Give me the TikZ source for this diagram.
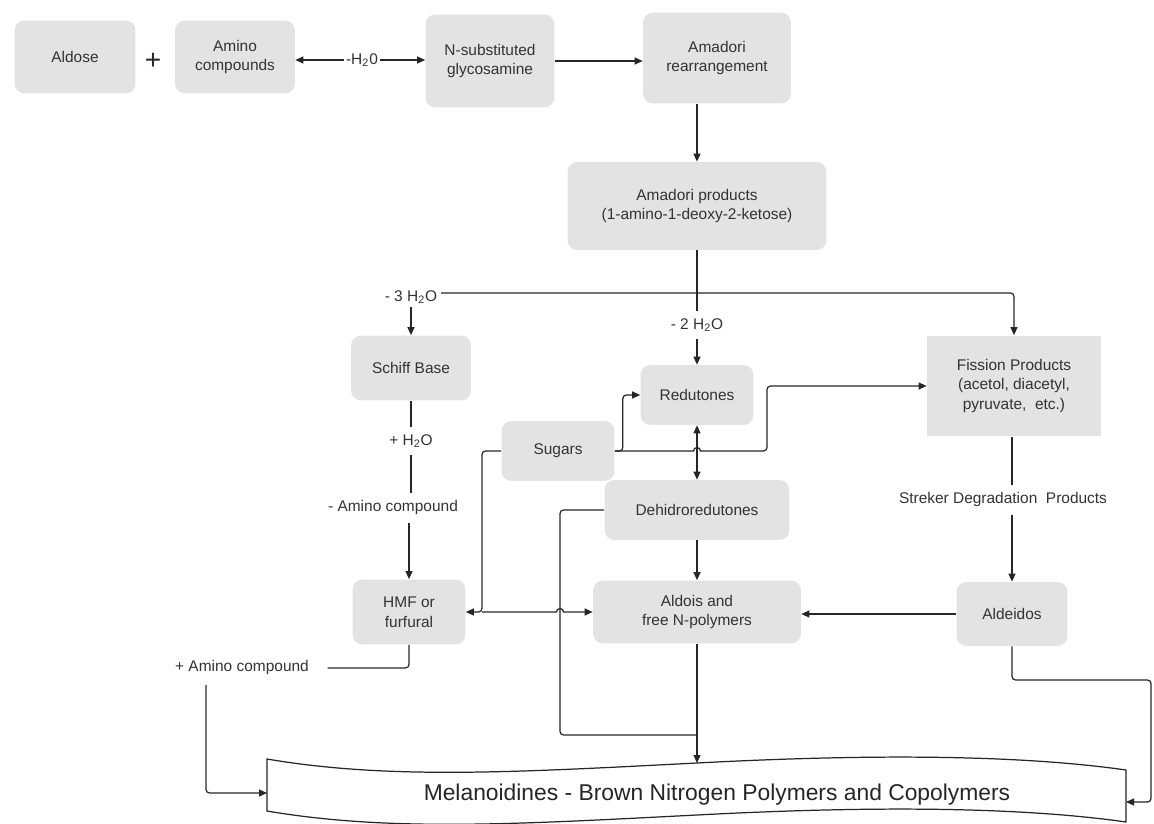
\documentclass[tikz,border=0pt]{standalone}
\usepackage{fontspec}
\setmainfont{Liberation Sans}
\usetikzlibrary{arrows.meta}

\begin{document}
\begin{tikzpicture}[x=0.02cm,y=-0.02cm,
    box/.style={fill=gray!22,rounded corners=0.2cm,align=center,inner sep=0pt,
      text=black!80,font=\fontsize{8.8}{11.3}\selectfont},
    lbl/.style={inner sep=2pt,text=black!80,font=\fontsize{8.8}{11.3}\selectfont},
    line/.style={line width=0.7pt,black!85},
    arr/.style={line,-{Triangle[length=1.6mm,width=1.4mm]}},
    arrs/.style={line,{Triangle[length=1.6mm,width=1.4mm]}-{Triangle[length=1.6mm,width=1.4mm]}}]
  \useasboundingbox (0,0) rectangle (1154,824);

  % top row
  \node[box,minimum width=2.42cm,minimum height=1.46cm] (aldose) at (75,57) {Aldose};
  \node[text=black!85,font=\fontsize{16}{16}\selectfont] (plus) at (153,61) {+};
  \node[box,minimum width=2.4cm,minimum height=1.46cm] (amino) at (235,57) {Amino\\compounds};
  \node[lbl,inner sep=1pt] (dehyd) at (362,60) {-H\textsubscript{2}0};
  \node[box,minimum width=2.58cm,minimum height=1.86cm] (nsub) at (490,61) {N-substituted\\glycosamine};
  \node[box,minimum width=2.96cm,minimum height=1.82cm] (rearr) at (717,58) {Amadori\\rearrangement};
  \node[box,minimum width=5.18cm,minimum height=1.76cm] (prod) at (697,206) {Amadori products\\(1-amino-1-deoxy-2-ketose)};

  \coordinate (j) at (697,293);
  \node[lbl] (minus3) at (411,297) {- 3 H\textsubscript{2}O};
  \node[lbl,inner sep=4pt] (minus2) at (697,325) {- 2 H\textsubscript{2}O};

  % middle
  \node[box,minimum width=2.4cm,minimum height=1.3cm] (schiff) at (411,368) {Schiff Base};
  \node[lbl,inner sep=4pt] (addw) at (411,441) {+ H\textsubscript{2}O};
  \node[lbl,inner sep=4pt] (lossam) at (393,508) {- Amino compound};
  \node[box,minimum width=2.26cm,minimum height=1.3cm] (hmf) at (409,612) {HMF or\\furfural};
  \node[box,minimum width=2.26cm,minimum height=1.2cm] (sugars) at (558,451) {Sugars};
  \node[box,minimum width=2.26cm,minimum height=1.2cm] (redu) at (697,395) {Redutones};
  \node[box,minimum width=3.7cm,minimum height=1.2cm] (dehi) at (697,510) {Dehidroredutones};
  \node[box,minimum width=4.16cm,minimum height=1.26cm] (aldois) at (697,612) {Aldois and\\free N-polymers};
  \node[box,rounded corners=0pt,minimum width=3.48cm,minimum height=2.02cm] (fiss) at (1014,386)
    {Fission Products\\(acetol, diacetyl,\\pyruvate,\ \ etc.)};
  \node[lbl,inner sep=4pt] (streker) at (1003,500) {Streker Degradation\ \ Products};
  \node[box,minimum width=2.22cm,minimum height=1.28cm] (aldeid) at (1012,614) {Aldeidos};
  \node[lbl] (addam) at (242,668) {+ Amino compound};

  % banner
  \draw[line,fill=white] (267,759) .. controls (390,780) and (520,772) .. (697,763)
    .. controls (830,756) and (1000,752) .. (1126,770) -- (1126,822)
    .. controls (1000,804) and (830,808) .. (697,815)
    .. controls (520,824) and (390,832) .. (267,811) -- cycle;
  \node[text=black!85,font=\fontsize{13}{13}\selectfont] (mel) at (717,795)
    {Melanoidines - Brown Nitrogen Polymers and Copolymers};
  \coordinate (mtop) at (697,763);
  \coordinate (mleft) at (267,793);
  \coordinate (mright) at (1126,802);

  % connectors
  \draw[arr] (dehyd.west) -- (dehyd.west -| amino.east);
  \draw[arr] (dehyd.east) -- (dehyd.east -| nsub.west);
  \draw[arr] (nsub.east) -- (nsub.east -| rearr.west);
  \draw[arr] (rearr.south -| prod.north) -- (prod.north);
  \draw[line] (prod.south) -- (j) -- (minus2.north);
  \draw[arr,rounded corners=2pt] (minus3.east |- j) -| (fiss.north);
  \draw[arr] (minus3.south) -- (schiff.north);
  \draw[arr] (minus2.south) -- (redu.north);
  \draw[line] (schiff.south) -- (addw.north);
  \draw[line] (addw.south) -- (addw.south |- lossam.north);
  \draw[arr] (lossam.south -| hmf.north) -- (hmf.north);

  \coordinate (hopa) at (693.5,451);
  \coordinate (bend) at (767,451);
  \draw[arr,rounded corners=2pt] (sugars.east) -- ++(8,0) |- (redu.west);
  \draw[arr] (sugars.east) -- (hopa) arc[start angle=180,end angle=0,radius=0.07cm]
    [rounded corners=2pt] -- (bend) |- (fiss.west);
  \coordinate (split) at (482,612);
  \coordinate (hopb) at (556.5,612);
  \draw[arr,rounded corners=2pt] (sugars.west) -| (split) -- (hmf.east);
  \draw[arr] (split) -- (hopb) arc[start angle=180,end angle=0,radius=0.07cm] -- (aldois.west);

  \draw[arrs] (redu.south) -- (dehi.north);
  \draw[arr] (dehi.south) -- (aldois.north);
  \coordinate (dcorner) at (560,735);
  \coordinate (jm) at (697,735);
  \draw[line,rounded corners=2pt] (dehi.west) -| (dcorner) -- (jm);
  \draw[arr] (aldois.south) -- (mtop);

  \draw[line] (fiss.south -| aldeid.north) -- (streker.north -| aldeid.north);
  \draw[arr] (streker.south -| aldeid.north) -- (aldeid.north);
  \draw[arr] (aldeid.west) -- (aldeid.west -| aldois.east);
  \coordinate (farright) at (1151,680);
  \draw[arr,rounded corners=2pt] (aldeid.south) |- (farright) |- (mright);

  \draw[line,rounded corners=2pt] (hmf.south) |- ([xshift=0.3cm]addam.east);
  \coordinate (aml) at (206,685);
  \draw[arr,rounded corners=2pt] (aml) |- (mleft);
\end{tikzpicture}
\end{document}
